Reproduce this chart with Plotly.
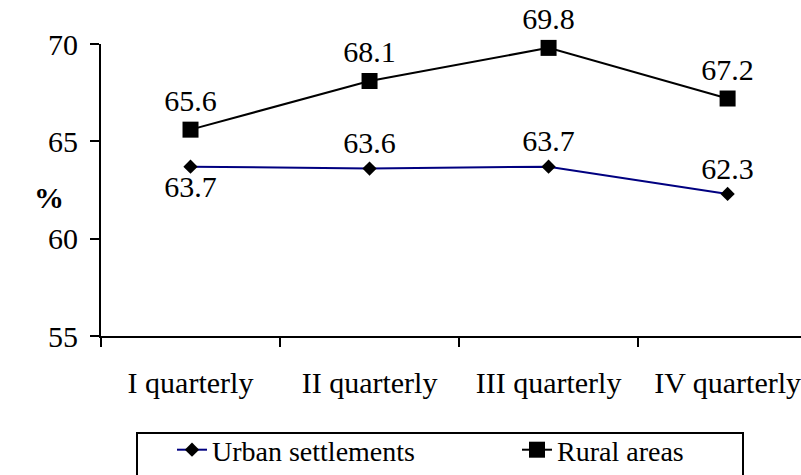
"""Urban vs rural rates by quarter, line chart with data labels."""

import plotly.graph_objects as go

QUARTERS = ["I quarterly", "II quarterly", "III quarterly", "IV quarterly"]
URBAN = [63.7, 63.6, 63.7, 62.3]
RURAL = [65.6, 68.1, 69.8, 67.2]
URBAN_TEXT_POS = ["bottom center", "top center", "top center", "top center"]

FONT = "Liberation Serif"
W, H = 801, 475
M_L, M_R, M_T, M_B = 101, 0, 44, 139
PW, PH = W - M_L - M_R, H - M_T - M_B


def px_x(px):
    return (px - M_L) / PW


def px_y(py):
    return (H - M_B - py) / PH


fig = go.Figure()
fig.add_trace(
    go.Scatter(
        x=QUARTERS,
        y=URBAN,
        name="Urban settlements",
        mode="lines+markers+text",
        line=dict(color="#000080", width=2),
        marker=dict(symbol="diamond", size=11, color="black"),
        text=[f"{v:.1f}" for v in URBAN],
        textposition=URBAN_TEXT_POS,
        textfont=dict(size=30, color="black", family=FONT),
        cliponaxis=False,
    )
)
fig.add_trace(
    go.Scatter(
        x=QUARTERS,
        y=RURAL,
        name="Rural areas",
        mode="lines+markers+text",
        line=dict(color="black", width=2),
        marker=dict(symbol="square", size=16, color="black"),
        text=[f"{v:.1f}" for v in RURAL],
        textposition="top center",
        textfont=dict(size=30, color="black", family=FONT),
        cliponaxis=False,
    )
)

fig.update_layout(
    width=W,
    height=H,
    margin=dict(l=M_L, r=M_R, t=M_T, b=M_B, autoexpand=False),
    paper_bgcolor="white",
    plot_bgcolor="white",
    font=dict(family=FONT, size=30, color="black"),
    showlegend=True,
    legend=dict(
        orientation="h",
        x=px_x(172),
        xanchor="left",
        y=px_y(425),
        yanchor="top",
        font=dict(size=28, family=FONT, color="black"),
        bgcolor="rgba(0,0,0,0)",
        borderwidth=0,
        entrywidth=300,
        entrywidthmode="pixels",
    ),
    shapes=[
        dict(
            type="rect",
            xref="paper",
            yref="paper",
            x0=px_x(137),
            x1=px_x(743),
            y0=px_y(482),
            y1=px_y(433),
            line=dict(color="black", width=2),
        )
    ],
    annotations=[
        dict(
            text="<b>%</b>",
            xref="paper",
            yref="paper",
            x=px_x(32),
            y=px_y(197),
            showarrow=False,
            font=dict(size=30, family=FONT, color="black"),
        )
    ],
)
fig.update_xaxes(
    type="category",
    range=[-0.5, 3.41],
    tickson="boundaries",
    ticks="outside",
    ticklen=9,
    tickwidth=2,
    tickcolor="black",
    showline=True,
    linecolor="black",
    linewidth=2,
    showgrid=False,
    zeroline=False,
    ticklabelstandoff=19,
)
fig.update_yaxes(
    range=[55, 70],
    tickvals=[55, 60, 65, 70],
    ticks="outside",
    ticklen=9,
    tickwidth=2,
    tickcolor="black",
    showline=True,
    linecolor="black",
    linewidth=2,
    showgrid=False,
    zeroline=False,
    ticklabelstandoff=6,
)

# drop the browser's default body margin so the figure sits at the top-left
fig.write_html(
    "out.html",
    config={"displayModeBar": False},
    post_script="document.body.style.margin='0';",
)
